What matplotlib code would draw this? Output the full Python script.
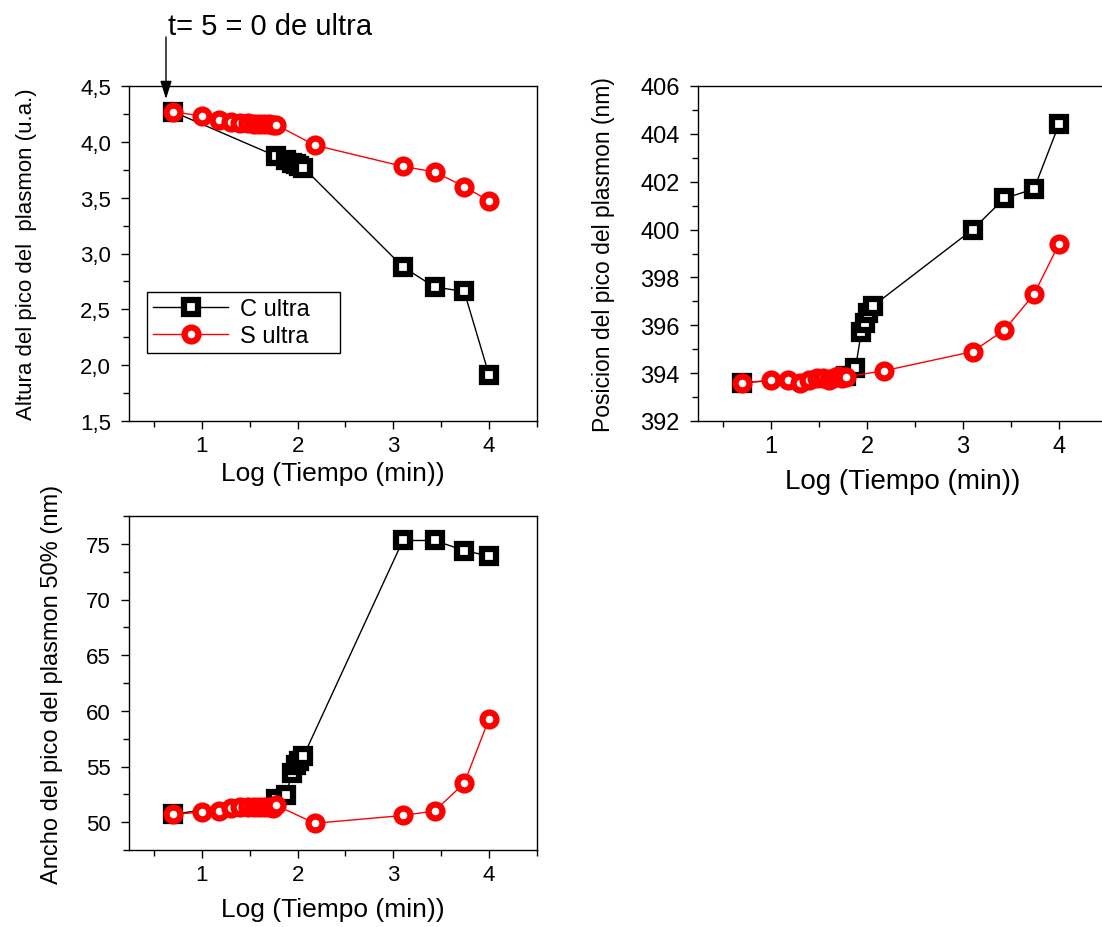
import matplotlib
matplotlib.use("Agg")
import matplotlib.pyplot as plt
from matplotlib.ticker import MultipleLocator, FuncFormatter

plt.rcParams['font.family'] = ['Liberation Sans', 'DejaVu Sans']

# log10 del tiempo (min)
log_t_c = [0.70, 1.78, 1.88, 1.94, 1.98, 2.01, 2.06, 3.10, 3.43, 3.74, 4.00]
log_t_s = [0.70, 1.00, 1.18, 1.30, 1.40, 1.48, 1.54, 1.60, 1.65, 1.70, 1.74, 1.78,
           2.18, 3.10, 3.43, 3.74, 4.00]

# altura del pico (u.a.)
altura_c = [4.27, 3.87, 3.84, 3.81, 3.80, 3.78, 3.77, 2.88, 2.70, 2.66, 1.91]
altura_s = [4.27, 4.23, 4.20, 4.18, 4.17, 4.17, 4.16, 4.16, 4.16, 4.16, 4.15, 4.15,
            3.97, 3.78, 3.73, 3.60, 3.47]

# posicion del pico (nm)
posicion_c = [393.6, 393.9, 394.2, 395.7, 396.1, 396.5, 396.8, 400.0, 401.3, 401.7, 404.4]
posicion_s = [393.6, 393.7, 393.7, 393.6, 393.7, 393.8, 393.8, 393.7, 393.8, 393.9, 393.8, 393.85,
              394.1, 394.9, 395.8, 397.3, 399.4]

# ancho al 50% (nm)
ancho_c = [50.7, 52.1, 52.4, 54.4, 55.1, 55.5, 55.9, 75.3, 75.3, 74.4, 73.9]
ancho_s = [50.7, 50.9, 51.0, 51.3, 51.4, 51.4, 51.4, 51.4, 51.4, 51.4, 51.3, 51.5,
           49.9, 50.6, 51.0, 53.5, 59.3]

W, H = 1102, 928
fig = plt.figure(figsize=(W / 100, H / 100), dpi=100)


def px_axes(x0, y0, x1, y1):
    # ejes ubicados en pixeles (origen arriba a la izquierda)
    return fig.add_axes([x0 / W, 1 - y1 / H, (x1 - x0) / W, (y1 - y0) / H])


def dibujar(ax, yc, ys):
    ax.plot(log_t_c, yc, color='black', lw=1, marker='s', ms=10, mew=4.5,
            mec='black', mfc='white', label='C ultra')
    ax.plot(log_t_s, ys, color='red', lw=1, marker='o', ms=10, mew=4.5,
            mec='red', mfc='white', label='S ultra')
    ax.set_xlim(0.24, 4.5)
    ax.xaxis.set_major_locator(MultipleLocator(1))
    ax.xaxis.set_minor_locator(MultipleLocator(0.5))
    ax.tick_params(which='both', direction='out', top=False, right=False,
                   width=1, labelsize=16, pad=4)
    ax.tick_params(axis='y', pad=7)
    ax.tick_params(which='major', length=6)
    ax.tick_params(which='minor', length=4)
    for sp in ax.spines.values():
        sp.set_linewidth(1)


ax1 = px_axes(129, 87, 537, 422)
dibujar(ax1, altura_c, altura_s)
ax1.set_ylim(1.5, 4.5)
ax1.yaxis.set_major_locator(MultipleLocator(0.5))
ax1.yaxis.set_minor_locator(MultipleLocator(0.25))
ax1.yaxis.set_major_formatter(FuncFormatter(lambda v, p: ('%.1f' % v).replace('.', ',')))
ax1.set_xlabel('Log (Tiempo (min))', fontsize=19, va='top')
ax1.xaxis.set_label_coords(0.5, -0.12)
ax1.set_ylabel('Altura del pico del  plasmon (u.a.)', fontsize=16)
ax1.yaxis.set_label_coords(-0.225, 0.5)
leg = ax1.legend(loc='lower left', bbox_to_anchor=(0.044, 0.203, 0.473, 0.188),
                 mode='expand', borderaxespad=0, fontsize=17, handlelength=3.2,
                 numpoints=1, fancybox=False, framealpha=1, edgecolor='black',
                 borderpad=0.25, labelspacing=0.2, handletextpad=0.5)
leg.get_frame().set_linewidth(1)

ax2 = px_axes(698, 87, 1107, 422)
dibujar(ax2, posicion_c, posicion_s)
ax2.set_ylim(392, 406)
ax2.yaxis.set_major_locator(MultipleLocator(2))
ax2.yaxis.set_minor_locator(MultipleLocator(1))
ax2.tick_params(labelsize=17)
ax2.set_xlabel('Log (Tiempo (min))', fontsize=20, va='top')
ax2.xaxis.set_label_coords(0.5, -0.14)
ax2.set_ylabel('Posicion del pico del plasmon (nm)', fontsize=16.5)
ax2.yaxis.set_label_coords(-0.203, 0.5)

ax3 = px_axes(129, 517, 537, 851)
dibujar(ax3, ancho_c, ancho_s)
ax3.set_ylim(47.5, 77.5)
ax3.yaxis.set_major_locator(MultipleLocator(5))
ax3.yaxis.set_minor_locator(MultipleLocator(2.5))
ax3.set_xlabel('Log (Tiempo (min))', fontsize=19, va='top')
ax3.xaxis.set_label_coords(0.5, -0.14)
ax3.set_ylabel('Ancho del pico del plasmon 50% (nm)', fontsize=17)
ax3.yaxis.set_label_coords(-0.162, 0.5)

# inicio del ultrasonido
fig.text(168 / W, 1 - 35 / H, 't= 5 = 0 de ultra', fontsize=21, va='baseline', ha='left')
ax1.annotate('', xy=(166 / W, 1 - 100 / H), xytext=(166 / W, 1 - 38 / H),
             xycoords='figure fraction', textcoords='figure fraction',
             arrowprops=dict(arrowstyle='-|>,head_length=1.1,head_width=0.35',
                             color='black', lw=1, shrinkA=0, shrinkB=0),
             annotation_clip=False)

fig.savefig('out.png', dpi=100)
